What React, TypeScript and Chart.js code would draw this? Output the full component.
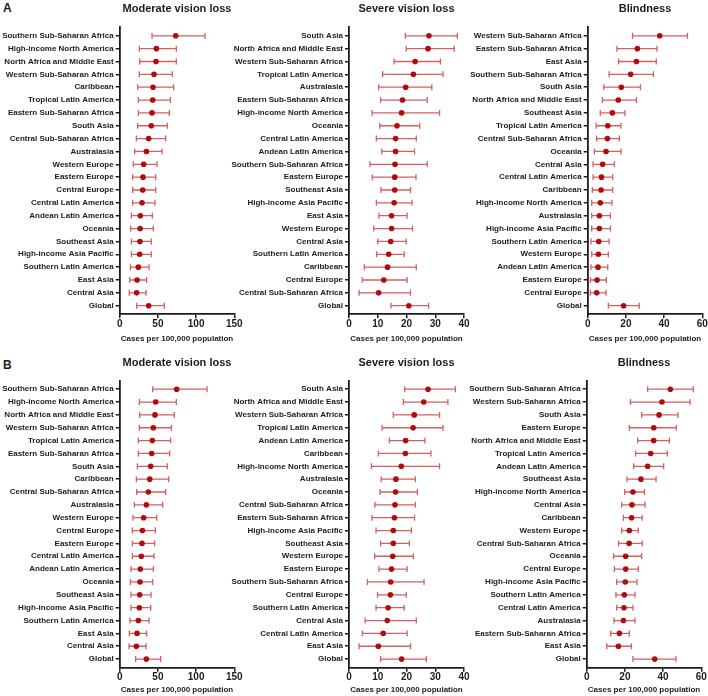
import React, { useEffect, useRef } from "react";
import { Chart, registerables } from "chart.js";
Chart.register(...registerables);

const FONT = "'Liberation Sans', Arial, Helvetica, sans-serif";
const INK = "#1c1c1c";
const BAR = "#d4605f";
const DOT = "#b00c0c";
const X_TITLE = "Cases per 100,000 population";

// ---------- Panel A: Moderate vision loss ----------
const aModLabels = ["Southern Sub-Saharan Africa", "High-income North America", "North Africa and Middle East", "Western Sub-Saharan Africa", "Caribbean", "Tropical Latin America", "Eastern Sub-Saharan Africa", "South Asia", "Central Sub-Saharan Africa", "Australasia", "Western Europe", "Eastern Europe", "Central Europe", "Central Latin America", "Andean Latin America", "Oceania", "Southeast Asia", "High-income Asia Pacific", "Southern Latin America", "East Asia", "Central Asia", "Global"];
const aModEst = [73.3, 48.0, 47.5, 44.9, 43.6, 43.2, 42.3, 41.4, 37.9, 34.9, 31.4, 30.5, 30.1, 29.2, 27.0, 26.7, 26.5, 26.2, 24.4, 22.7, 22.2, 37.9];
const aModLo = [42.3, 25.7, 26.2, 25.7, 23.5, 24.4, 24.4, 23.5, 21.8, 19.6, 17.9, 17.0, 17.0, 17.0, 15.3, 14.4, 15.3, 15.3, 14.0, 13.1, 12.6, 22.2];
const aModHi = [111.6, 74.1, 74.1, 68.9, 70.6, 66.3, 65.0, 62.4, 60.2, 55.4, 48.8, 47.1, 47.1, 46.2, 42.7, 44.0, 41.4, 41.4, 38.4, 35.3, 34.5, 58.4];

// ---------- Panel A: Severe vision loss ----------
const aSevLabels = ["South Asia", "North Africa and Middle East", "Western Sub-Saharan Africa", "Tropical Latin America", "Australasia", "Eastern Sub-Saharan Africa", "High-income North America", "Oceania", "Central Latin America", "Andean Latin America", "Southern Sub-Saharan Africa", "Eastern Europe", "Southeast Asia", "High-income Asia Pacific", "East Asia", "Western Europe", "Central Asia", "Southern Latin America", "Caribbean", "Central Europe", "Central Sub-Saharan Africa", "Global"];
const aSevEst = [27.8, 27.5, 23.0, 22.4, 19.7, 18.6, 18.3, 16.7, 16.2, 16.2, 16.0, 15.9, 15.9, 15.7, 14.8, 14.8, 14.5, 13.8, 13.4, 12.1, 10.3, 20.8];
const aSevLo = [19.6, 19.9, 15.7, 11.7, 10.3, 11.0, 8.0, 10.7, 9.5, 11.4, 7.3, 8.1, 11.1, 9.5, 10.4, 8.6, 10.0, 9.6, 5.3, 4.6, 3.5, 14.6];
const aSevHi = [37.7, 36.6, 31.8, 32.7, 28.8, 27.2, 31.5, 24.6, 23.4, 22.8, 27.2, 23.3, 21.4, 21.9, 20.2, 22.1, 19.9, 19.2, 23.4, 20.2, 21.4, 27.7];

// ---------- Panel A: Blindness ----------
const aBliLabels = ["Western Sub-Saharan Africa", "Eastern Sub-Saharan Africa", "East Asia", "Southern Sub-Saharan Africa", "South Asia", "North Africa and Middle East", "Southeast Asia", "Tropical Latin America", "Central Sub-Saharan Africa", "Oceania", "Central Asia", "Central Latin America", "Caribbean", "High-income North America", "Australasia", "High-income Asia Pacific", "Southern Latin America", "Western Europe", "Andean Latin America", "Eastern Europe", "Central Europe", "Global"];
const aBliEst = [37.7, 26.0, 25.5, 22.5, 17.6, 16.0, 12.9, 10.5, 10.3, 9.6, 7.8, 7.2, 7.0, 6.6, 6.1, 6.1, 5.8, 5.6, 5.4, 4.9, 4.7, 18.8];
const aBliLo = [23.5, 15.3, 16.2, 11.2, 8.4, 7.7, 6.6, 4.4, 4.7, 3.5, 2.8, 2.8, 2.4, 2.1, 2.1, 2.1, 1.7, 2.1, 1.7, 1.4, 1.4, 10.8];
const aBliHi = [52.2, 36.3, 35.9, 34.4, 27.6, 25.5, 19.5, 17.4, 16.6, 17.4, 14.0, 13.1, 13.1, 12.7, 11.9, 11.9, 11.2, 10.8, 10.5, 9.8, 9.6, 27.0];

// ---------- Panel B: Moderate vision loss ----------
const bModLabels = ["Southern Sub-Saharan Africa", "High-income North America", "North Africa and Middle East", "Western Sub-Saharan Africa", "Tropical Latin America", "Eastern Sub-Saharan Africa", "South Asia", "Caribbean", "Central Sub-Saharan Africa", "Australasia", "Western Europe", "Central Europe", "Eastern Europe", "Central Latin America", "Andean Latin America", "Oceania", "Southeast Asia", "High-income Asia Pacific", "Southern Latin America", "East Asia", "Central Asia", "Global"];
const bModEst = [74.6, 47.1, 46.2, 44.0, 42.7, 41.9, 40.6, 39.3, 37.5, 34.9, 31.4, 29.7, 29.2, 28.3, 27.0, 26.6, 26.2, 25.7, 24.4, 22.7, 21.8, 34.9];
const bModLo = [43.2, 25.7, 26.2, 25.7, 24.4, 24.4, 23.1, 21.8, 22.2, 19.2, 17.4, 16.6, 16.6, 16.6, 14.8, 14.0, 14.8, 14.8, 13.5, 12.6, 12.2, 20.9];
const bModHi = [114.3, 74.1, 71.5, 67.6, 66.7, 65.4, 62.4, 64.1, 60.2, 56.3, 48.4, 46.7, 45.8, 44.9, 44.0, 43.2, 41.0, 40.6, 38.4, 35.3, 34.5, 53.6];

// ---------- Panel B: Severe vision loss ----------
const bSevLabels = ["South Asia", "North Africa and Middle East", "Western Sub-Saharan Africa", "Tropical Latin America", "Andean Latin America", "Caribbean", "High-income North America", "Australasia", "Oceania", "Central Sub-Saharan Africa", "Eastern Sub-Saharan Africa", "High-income Asia Pacific", "Southeast Asia", "Western Europe", "Eastern Europe", "Southern Sub-Saharan Africa", "Central Europe", "Southern Latin America", "Central Asia", "Central Latin America", "East Asia", "Global"];
const bSevEst = [27.5, 26.0, 22.7, 22.3, 19.7, 19.6, 18.2, 16.3, 16.2, 16.0, 15.8, 15.4, 15.4, 15.2, 14.8, 14.5, 14.4, 13.6, 13.3, 11.9, 10.2, 18.3];
const bSevLo = [19.4, 18.9, 15.4, 11.5, 14.0, 10.2, 7.8, 11.2, 10.8, 9.0, 8.0, 9.4, 11.0, 8.9, 10.4, 6.4, 9.9, 9.4, 5.6, 4.6, 3.5, 11.0];
const bSevHi = [37.0, 34.4, 31.5, 32.7, 26.4, 28.5, 31.5, 23.1, 23.8, 23.1, 22.8, 21.7, 21.0, 22.4, 20.2, 26.1, 19.9, 19.2, 23.4, 20.2, 21.4, 26.9];

// ---------- Panel B: Blindness ----------
const bBliLabels = ["Southern Sub-Saharan Africa", "Western Sub-Saharan Africa", "South Asia", "Eastern Europe", "North Africa and Middle East", "Tropical Latin America", "Andean Latin America", "Southeast Asia", "High-income North America", "Central Asia", "Caribbean", "Western Europe", "Central Sub-Saharan Africa", "Oceania", "Central Europe", "High-income Asia Pacific", "Southern Latin America", "Central Latin America", "Australasia", "Eastern Sub-Saharan Africa", "East Asia", "Global"];
const bBliEst = [43.8, 39.4, 37.9, 35.1, 35.1, 33.5, 31.9, 28.4, 24.2, 23.7, 23.5, 22.3, 22.2, 20.4, 20.4, 20.2, 19.7, 19.5, 19.2, 17.1, 16.6, 35.6];
const bBliLo = [31.9, 22.9, 28.8, 22.3, 26.7, 25.6, 24.6, 21.1, 19.9, 18.3, 19.2, 18.3, 16.7, 14.1, 14.5, 15.7, 15.3, 15.7, 14.3, 12.6, 10.5, 24.2];
const bBliHi = [55.8, 54.1, 47.8, 46.9, 43.3, 42.2, 40.3, 36.3, 30.2, 30.5, 29.0, 27.0, 29.1, 28.8, 27.0, 26.3, 25.3, 24.2, 25.3, 22.3, 23.4, 46.7];

// x-axis ranges
const modRange = { max: 150, step: 50 };
const sevRange = { max: 40, step: 10 };
const bliRange = { max: 60, step: 20 };

type PanelProps = {
  title: string;
  labels: string[];
  est: number[];
  lo: number[];
  hi: number[];
  range: { max: number; step: number };
  left: number;
  top: number;
  width: number;
  height: number;
  yAxisW: number;
  padRight: number;
  topH: number;
  titlePad: number;
  bottomH: number;
  xTitlePad: number;
};

function Panel(p: PanelProps) {
  const ref = useRef<HTMLCanvasElement>(null);
  useEffect(() => {
    if (!ref.current) return;
    const errData: any[] = [];
    p.labels.forEach((_, i) => {
      errData.push({ x: p.lo[i], y: i }, { x: p.hi[i], y: i }, { x: null, y: null });
    });
    const estData = p.est.map((v, i) => ({ x: v, y: i }));
    const chart = new Chart(ref.current, {
      type: "scatter",
      data: {
        datasets: [
          {
            type: "line",
            data: errData,
            borderColor: BAR,
            borderWidth: 1.3,
            pointStyle: "line",
            pointRotation: 90,
            pointRadius: 3,
            pointBorderColor: BAR,
            pointBorderWidth: 1.3,
            pointHoverRadius: 3,
            spanGaps: false,
            fill: false,
            order: 2,
          } as any,
          {
            data: estData,
            pointRadius: 2.8,
            pointHoverRadius: 2.8,
            backgroundColor: DOT,
            borderColor: DOT,
            borderWidth: 0,
            order: 1,
          } as any,
        ],
      },
      options: {
        animation: false,
        responsive: false,
        maintainAspectRatio: false,
        events: [],
        layout: { padding: { left: 0, right: p.padRight, top: 0, bottom: 0 } },
        plugins: {
          legend: { display: false },
          tooltip: { enabled: false },
          title: { display: false },
        },
        scales: {
          x: {
            type: "linear",
            position: "bottom",
            min: 0,
            max: p.range.max,
            ticks: {
              stepSize: p.range.step,
              color: INK,
              padding: 0,
              maxRotation: 0,
              font: { family: FONT, size: 10, weight: "bold" },
            },
            grid: { drawOnChartArea: false, drawTicks: true, tickLength: 4, color: INK, lineWidth: 1.5 },
            border: { color: INK, width: 1.8 },
            title: {
              display: true,
              text: X_TITLE,
              color: INK,
              font: { family: FONT, size: 8, weight: "bold" },
              padding: { top: 0, bottom: p.xTitlePad },
            },
            afterFit: (s: any) => {
              s.height = p.bottomH;
            },
          },
          xt: {
            type: "linear",
            position: "top",
            min: 0,
            max: p.range.max,
            ticks: { display: false },
            grid: { display: false },
            border: { display: false },
            title: {
              display: true,
              text: p.title,
              color: INK,
              font: { family: FONT, size: 11, weight: "bold" },
              padding: { top: p.titlePad, bottom: 0 },
            },
            afterFit: (s: any) => {
              s.height = p.topH;
            },
          },
          y: {
            type: "linear",
            reverse: true,
            min: -0.66,
            max: 21.67,
            afterBuildTicks: (a: any) => {
              a.ticks = p.labels.map((_, i) => ({ value: i }));
            },
            ticks: {
              autoSkip: false,
              color: INK,
              padding: 2,
              font: { family: FONT, size: 8, weight: "bold" },
              callback: (v: any) => p.labels[v as number],
            },
            grid: { drawOnChartArea: false, drawTicks: true, tickLength: 4, color: INK, lineWidth: 1.5 },
            border: { color: INK, width: 1.8 },
            afterFit: (s: any) => {
              s.width = p.yAxisW;
            },
          },
        },
      } as any,
    });
    return () => chart.destroy();
  }, []);
  return (
    <canvas
      ref={ref}
      width={p.width}
      height={p.height}
      style={{ position: "absolute", left: p.left, top: p.top, width: p.width, height: p.height }}
    />
  );
}

const rowA = { top: 0, height: 348, topH: 27.3, titlePad: 2.4, bottomH: 33.7, xTitlePad: 4.2 };
const rowB = { top: 348, height: 348, topH: 32.7, titlePad: 8.1, bottomH: 28.3, xTitlePad: 1.2 };

const letterStyle = (top: number): React.CSSProperties => ({
  position: "absolute",
  left: 3,
  top,
  fontFamily: FONT,
  fontWeight: "bold",
  fontSize: 12,
  lineHeight: "12px",
  color: INK,
});

export default function App() {
  return (
    <div style={{ position: "absolute", left: 0, top: 0, width: 708, height: 696, background: "#fff", overflow: "hidden" }}>
      <div style={letterStyle(2)}>A</div>
      <div style={letterStyle(358.5)}>B</div>
      <Panel title="Moderate vision loss" labels={aModLabels} est={aModEst} lo={aModLo} hi={aModHi} range={modRange}
        left={0} width={245} yAxisW={119.7} padRight={10.7} {...rowA} />
      <Panel title="Severe vision loss" labels={aSevLabels} est={aSevEst} lo={aSevLo} hi={aSevHi} range={sevRange}
        left={225} width={250} yAxisW={124} padRight={11} {...rowA} />
      <Panel title="Blindness" labels={aBliLabels} est={aBliEst} lo={aBliLo} hi={aBliHi} range={bliRange}
        left={465} width={243} yAxisW={122.7} padRight={5.7} {...rowA} />
      <Panel title="Moderate vision loss" labels={bModLabels} est={bModEst} lo={bModLo} hi={bModHi} range={modRange}
        left={0} width={245} yAxisW={119.7} padRight={10.7} {...rowB} />
      <Panel title="Severe vision loss" labels={bSevLabels} est={bSevEst} lo={bSevLo} hi={bSevHi} range={sevRange}
        left={225} width={250} yAxisW={124} padRight={11} {...rowB} />
      <Panel title="Blindness" labels={bBliLabels} est={bBliEst} lo={bBliLo} hi={bBliHi} range={bliRange}
        left={465} width={243} yAxisW={121.7} padRight={6.7} {...rowB} />
    </div>
  );
}
